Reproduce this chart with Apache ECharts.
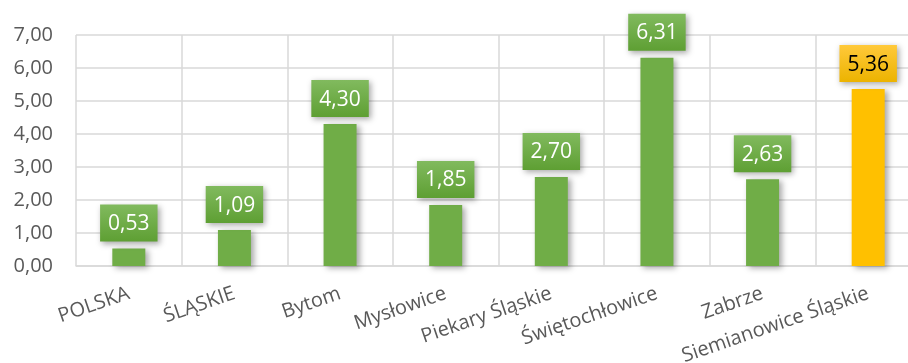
<!DOCTYPE html>
<html>
<head>
<meta charset="utf-8">
<script src="https://cdn.jsdelivr.net/npm/echarts@6/dist/echarts.min.js"></script>
<style>html,body{margin:0;padding:0;background:#fff}#c{width:908px;height:363px}</style>
</head>
<body>
<div id="c"></div>
<script>
var categories = ['POLSKA', 'ŚLĄSKIE', 'Bytom', 'Mysłowice', 'Piekary Śląskie', 'Świętochłowice', 'Zabrze', 'Siemianowice Śląskie'];
var values = [0.53, 1.09, 4.30, 1.85, 2.70, 6.31, 2.63, 5.36];
var highlightIndex = 7;

var chart = echarts.init(document.getElementById('c'));
function fmt(v){ return v.toFixed(2).replace('.', ','); }
var green = '#70ad47', yellow = '#ffc000';
var greenLabel = new echarts.graphic.LinearGradient(0,0,0,1,[{offset:0,color:'#81ba5e'},{offset:1,color:'#5e9f33'}]);
var yellowLabel = new echarts.graphic.LinearGradient(0,0,0,1,[{offset:0,color:'#ffc93a'},{offset:1,color:'#ecb300'}]);

var data = values.map(function(v, i){
  var hl = i === highlightIndex;
  return {
    value: v,
    itemStyle: { color: hl ? yellow : green },
    label: {
      backgroundColor: hl ? yellowLabel : greenLabel,
      color: hl ? '#000' : '#fff'
    }
  };
});

chart.setOption({
  animation: false,
  grid: { left: 76, width: 845, top: 35, bottom: 97, containLabel: false, outerBoundsMode: 'none' },
  xAxis: {
    type: 'category',
    data: categories,
    boundaryGap: true,
    axisLine: { lineStyle: { color: '#d9d9d9', width: 1.5 } },
    axisTick: { show: false },
    splitLine: { show: true, lineStyle: { color: '#d9d9d9', width: 1.5 } },
    axisLabel: {
      rotate: 19, interval: 0, margin: 27,
      fontFamily: 'Open Sans', fontSize: 20, color: '#595959'
    }
  },
  yAxis: {
    type: 'value', min: 0, max: 7, interval: 1,
    axisLine: { show: false },
    axisTick: { show: false },
    splitLine: { lineStyle: { color: '#d9d9d9', width: 1.5 } },
    axisLabel: {
      formatter: function(v){ return fmt(v); },
      margin: 23, fontFamily: 'Open Sans', fontSize: 20, color: '#595959'
    }
  },
  series: [{
    type: 'bar',
    data: data,
    barWidth: 33,
    itemStyle: {
      shadowColor: 'rgba(0,0,0,0.35)', shadowBlur: 6, shadowOffsetX: 3, shadowOffsetY: 2
    },
    label: {
      show: true, position: 'top', distance: 7,
      formatter: function(p){ return fmt(p.value); },
      fontFamily: 'Open Sans', fontSize: 21,
      padding: [9, 8, 7, 8],
      shadowColor: 'rgba(0,0,0,0.35)', shadowBlur: 6, shadowOffsetX: 2, shadowOffsetY: 2
    }
  }]
});
</script>
</body>
</html>
